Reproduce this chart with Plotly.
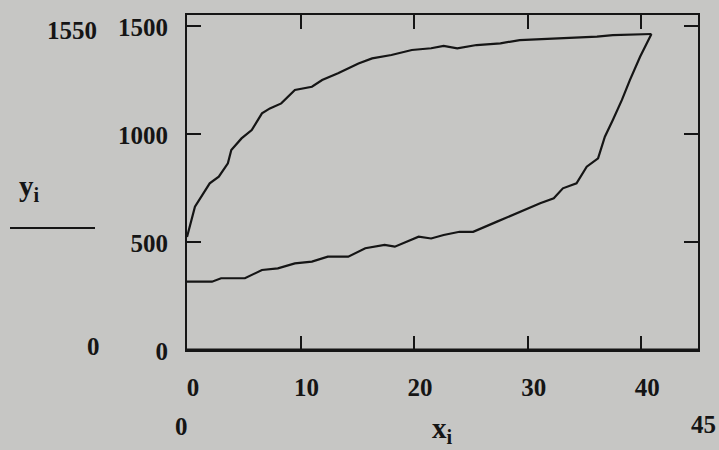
import plotly.graph_objects as go

# lower branch of the loop (x ascending to the tip)
x_lower = [0, 2.2, 3.0, 5.1, 6.6, 8.0, 9.5, 11.0, 12.4, 14.2, 15.7, 17.4, 18.3, 20.4,
           21.5, 22.6, 24.0, 25.2, 27.3, 29.3, 31.1, 32.3, 33.1, 34.3, 35.2, 36.2,
           36.8, 37.5, 38.3, 39.0, 39.9, 40.9]
y_lower = [316, 316, 332, 332, 370, 378, 401, 409, 432, 432, 471, 486, 478, 524,
           516, 532, 547, 547, 594, 640, 679, 702, 748, 771, 848, 887,
           987, 1064, 1157, 1249, 1357, 1462]

# upper branch of the loop
x_upper = [0, 0.2, 0.7, 2.0, 2.8, 3.6, 3.9, 4.8, 5.7, 6.6, 7.3, 8.3, 9.5, 11.0, 11.9,
           13.3, 15.1, 16.3, 18.0, 19.8, 21.5, 22.6, 23.8, 25.5, 27.6, 29.3, 32.6,
           36.1, 37.5, 40.9]
y_upper = [523, 560, 663, 771, 802, 864, 925, 979, 1018, 1095, 1118, 1141, 1203, 1218,
           1249, 1280, 1326, 1349, 1365, 1388, 1396, 1407, 1396, 1411, 1419, 1434, 1442,
           1450, 1457, 1462]

x_ticks = [0, 10, 20, 30, 40]
y_ticks = [0, 500, 1000, 1500]
x_min, x_max = 0, 45
y_min, y_max = 0, 1550

BG = "#c6c6c4"
INK = "#151515"
FONT = dict(family="Liberation Serif", size=25, color=INK, weight="bold")

fig = go.Figure()
for xs, ys in [(x_lower, y_lower), (x_upper, y_upper)]:
    fig.add_trace(go.Scatter(x=xs, y=ys, mode="lines",
                             line=dict(color=INK, width=2.2), showlegend=False,
                             hoverinfo="skip"))

axis_common = dict(showline=True, linecolor=INK, linewidth=2, mirror="ticks",
                   ticks="inside", ticklen=14, tickwidth=1.5, tickcolor=INK,
                   showgrid=False, zeroline=False, tickfont=FONT)

fig.update_xaxes(range=[x_min, x_max], tickvals=x_ticks,
                 ticktext=[str(v) for v in x_ticks],
                 ticklabelstandoff=14, ticklabelshift=6, **axis_common)
fig.update_yaxes(range=[y_min, y_max], tickvals=y_ticks,
                 ticktext=[str(v) for v in y_ticks],
                 ticklabelstandoff=12, ticklabelshift=1, **axis_common)

# thicker bottom edge
fig.add_shape(type="line", xref="x domain", yref="y", x0=0, x1=1, y0=0, y1=0,
              line=dict(color=INK, width=3))

L, R, T, B = 187, 21, 15, 100
W, H = 719, 450
pw, ph = W - L - R, H - T - B


def px(x):
    return (x - L) / pw


def py(y):
    return (H - B - y) / ph


ann = [
    (str(y_max), 72, 30, "center"),
    (str(y_min), 93, 346, "center"),
    (str(x_min), 181, 426, "center"),
    (str(x_max), 703, 424, "center"),
]
for txt, ax_, ay_, al in ann:
    fig.add_annotation(text=txt, xref="paper", yref="paper", x=px(ax_), y=py(ay_),
                       showarrow=False, font=FONT, xanchor=al, yanchor="middle")

fig.add_annotation(text="y<sub>i</sub>", xref="paper", yref="paper", x=px(29), y=py(188),
                   showarrow=False, font=dict(FONT, size=29), xanchor="center",
                   yanchor="middle")
fig.add_annotation(text="x<sub>i</sub>", xref="paper", yref="paper", x=px(442), y=py(430),
                   showarrow=False, font=dict(FONT, size=29), xanchor="center",
                   yanchor="middle")
fig.add_shape(type="line", xref="paper", yref="paper", x0=px(10), x1=px(95),
              y0=py(228), y1=py(228), line=dict(color=INK, width=1.8))

fig.update_layout(width=W, height=H, margin=dict(l=L, r=R, t=T, b=B),
                  paper_bgcolor=BG, plot_bgcolor=BG)

fig.write_html("out.html", config={"displayModeBar": False},
               post_script="document.body.style.margin='0';"
                           "document.body.style.background='%s';" % BG)
